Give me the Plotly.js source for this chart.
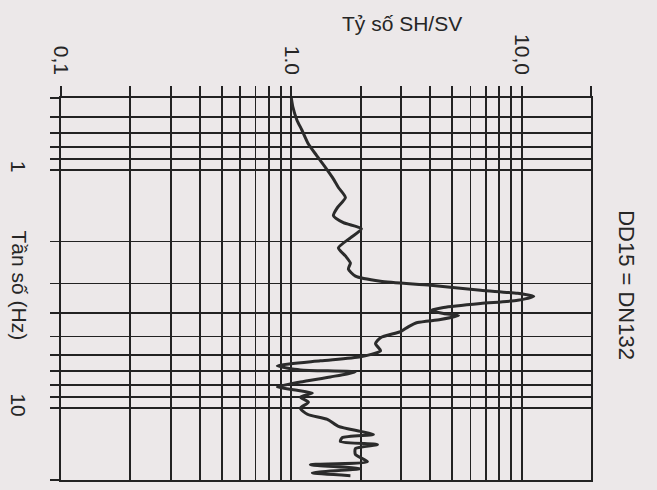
<!DOCTYPE html>
<html>
<head>
<meta charset="utf-8">
<script src="https://cdn.plot.ly/plotly-3.0.1.min.js"></script>
<style>
  html, body { margin: 0; padding: 0; background: #ece8e9; }
  #chart { width: 657px; height: 490px; }
</style>
</head>
<body>
<div id="chart"></div>
<script>
// Spectral ratio SH/SV versus frequency for station DD15 = DN132 (log-log, frequency increasing downward)
const ratioSHSV = [1.00, 1.015, 1.057, 1.111, 1.186, 1.284, 1.405, 1.508, 1.601, 1.717,
  1.585, 1.523, 1.683, 2.015, 1.805, 1.601, 1.717, 1.805, 1.769, 1.898,
  2.438, 4.02, 6.63, 9.61, 11.28, 9.61, 6.63, 4.58, 4.02, 4.58,
  5.32, 4.44, 3.53, 3.23, 2.98, 2.44, 2.32, 2.44, 1.995, 1.337,
  0.869, 1.094, 1.898, 1.477, 1.094, 0.869, 1.041, 1.234, 1.094, 1.186,
  1.094, 1.174, 1.434, 1.601, 1.995, 2.272, 1.666, 1.633, 2.365, 1.898,
  1.898, 2.14, 1.209, 1.995, 1.234, 1.805];

const freqHz = [0.50, 0.544, 0.618, 0.681, 0.780, 0.868, 0.976, 1.076, 1.186, 1.307,
  1.441, 1.557, 1.667, 1.768, 1.929, 2.127, 2.298, 2.461, 2.609, 2.793,
  2.933, 3.049, 3.202, 3.296, 3.394, 3.528, 3.634, 3.778, 3.890, 4.005,
  4.083, 4.246, 4.372, 4.546, 4.772, 5.058, 5.362, 5.741, 6.087, 6.329,
  6.643, 6.907, 7.043, 7.393, 7.762, 8.151, 8.393, 8.642, 8.985, 9.432,
  10.0, 10.60, 11.13, 11.92, 12.51, 12.88, 13.27, 13.79, 14.20, 14.76,
  15.65, 16.75, 17.25, 17.94, 18.65, 19.20];

// Log grid: every unit step inside each decade, labels only at the decades
const ratioTicks = [0.1, 0.2, 0.3, 0.4, 0.5, 0.6, 0.7, 0.8, 0.9, 1, 2, 3, 4, 5, 6, 7, 8, 9, 10, 20];
const ratioTickText = ['0,1', '', '', '', '', '', '', '', '', '1.0', '', '', '', '', '', '', '', '', '10,0', ''];
const freqTicks = [0.5, 0.6, 0.7, 0.8, 0.9, 1, 2, 3, 4, 5, 6, 7, 8, 9, 10, 20];
const freqTickText = ['', '', '', '', '', '1', '', '', '', '', '', '', '', '', '10', ''];

const ratioTitle = 'Tỷ số SH/SV';
const freqTitle = 'Tần số (Hz)';
const stationLabel = 'DD15 = DN132';

const ink = '#222222';
const textInk = '#262626';
const paper = '#ece8e9';
const fontFamily = '"Liberation Sans", Arial, Helvetica, sans-serif';

const trace = {
  type: 'scatter',
  mode: 'lines',
  x: ratioSHSV,
  y: freqHz,
  line: { color: '#2b2b2b', width: 3, shape: 'spline', smoothing: 0.6 },
  hoverinfo: 'skip'
};

const gridAxis = {
  type: 'log',
  ticks: 'outside',
  tickcolor: ink,
  tickwidth: 1.7,
  showgrid: true,
  gridcolor: ink,
  gridwidth: 1.7,
  zeroline: false,
  showline: true,
  mirror: true,
  linecolor: ink,
  linewidth: 1.7,
  tickangle: 90,
  tickmode: 'array',
  tickfont: { family: fontFamily, size: 21, color: textInk }
};

const layout = {
  width: 657,
  height: 490,
  margin: { l: 61, r: 66, t: 98, b: 10 },
  paper_bgcolor: paper,
  plot_bgcolor: paper,
  showlegend: false,
  font: { family: fontFamily, size: 21, color: textInk },
  xaxis: Object.assign({}, gridAxis, {
    side: 'top',
    range: [Math.log10(0.1), Math.log10(20)],
    tickvals: ratioTicks,
    ticktext: ratioTickText,
    ticklen: 10,
    ticklabelstandoff: 4
  }),
  yaxis: Object.assign({}, gridAxis, {
    range: [Math.log10(20), Math.log10(0.5)],
    tickvals: freqTicks,
    ticktext: freqTickText,
    ticklen: 9,
    ticklabelstandoff: 14
  }),
  annotations: [
    {
      text: ratioTitle, xref: 'paper', yref: 'paper',
      x: 0.643, y: 1.195, xanchor: 'center', yanchor: 'middle',
      showarrow: false, font: { family: fontFamily, size: 21, color: textInk }
    },
    {
      text: freqTitle, xref: 'paper', yref: 'paper',
      x: -0.078, y: 0.51, xanchor: 'center', yanchor: 'middle',
      textangle: 90, showarrow: false,
      font: { family: fontFamily, size: 21, color: textInk }
    },
    {
      text: stationLabel, xref: 'paper', yref: 'paper',
      x: 1.068, y: 0.51, xanchor: 'center', yanchor: 'middle',
      textangle: 90, showarrow: false,
      font: { family: fontFamily, size: 22, color: textInk }
    }
  ]
};

Plotly.newPlot('chart', [trace], layout, { staticPlot: true, displayModeBar: false });
</script>
</body>
</html>
